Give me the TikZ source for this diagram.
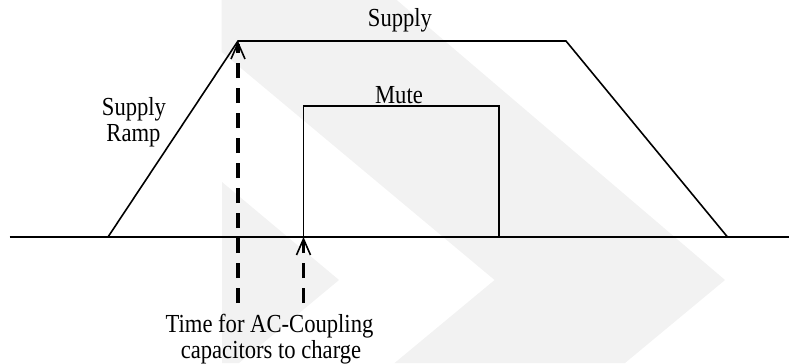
\documentclass[tikz,border=0pt]{standalone}
\usepackage{fontspec}
\setmainfont{Liberation Serif}
\newcommand{\lbltxt}[1]{\scalebox{0.87}[1]{#1}}
\usetikzlibrary{arrows.meta}
\definecolor{wmgray}{RGB}{242,242,242}
\begin{document}
\begin{tikzpicture}[x=1bp,y=-1bp,
  wave/.style={line width=1.6bp, line join=miter},
  timearrow/.style={line width=3.5bp, dash pattern=on 15bp off 10bp,
    -{Straight Barb[length=16bp,width=14bp,line width=1.6bp]}},
  lbl/.style={inner sep=0pt, anchor=base, font=\rmfamily\fontsize{26bp}{27bp}\selectfont}]
\useasboundingbox (0,0) rectangle (789,363);
% watermark
\fill[wmgray] (221.7,0) -- (396.7,0) -- (725,280) -- (625,363) -- (394.6,363)
  -- (494.6,280) -- (221.7,52) -- cycle;
\fill[wmgray] (222,182) -- (339,280) -- (239,363) -- (222,363) -- cycle;
% coordinates
\coordinate (bl) at (9.5,237);
\coordinate (br) at (789,237);
\coordinate (s0) at (108,237);
\coordinate (s1) at (238,41);
\coordinate (s2) at (566,41);
\coordinate (s3) at (727.5,237);
\coordinate (m0) at (303.5,237);
\coordinate (m1) at (303.5,106);
\coordinate (m2) at (499,106);
\coordinate (m3) at (499,237);
\coordinate (a1) at (238,303);
\coordinate (a2) at (303.5,303);
% waveforms
\draw[wave] (bl) -- (br);
\draw[wave] (s0) -- (s1) -- (s2) -- (s3);
\draw[wave] (m0) -- (m1) -- (m2) -- (m3);
% arrows
\draw[timearrow] (a1) -- (s1);
\draw[timearrow] (a2) -- (m0);
% labels
\node[lbl] (supply) at (400,26.7) {\lbltxt{Supply}};
\node[lbl] (mute) at (399,103.3) {\lbltxt{Mute}};
\node[lbl] (ramp1) at (134,115) {\lbltxt{Supply}};
\node[lbl] (ramp2) at (133.5,141.7) {\lbltxt{Ramp}};
\node[lbl] (time1) at (269.5,332.3) {\lbltxt{Time for AC-Coupling}};
\node[lbl] (time2) at (271,358.5) {\lbltxt{capacitors to charge}};
\end{tikzpicture}
\end{document}
